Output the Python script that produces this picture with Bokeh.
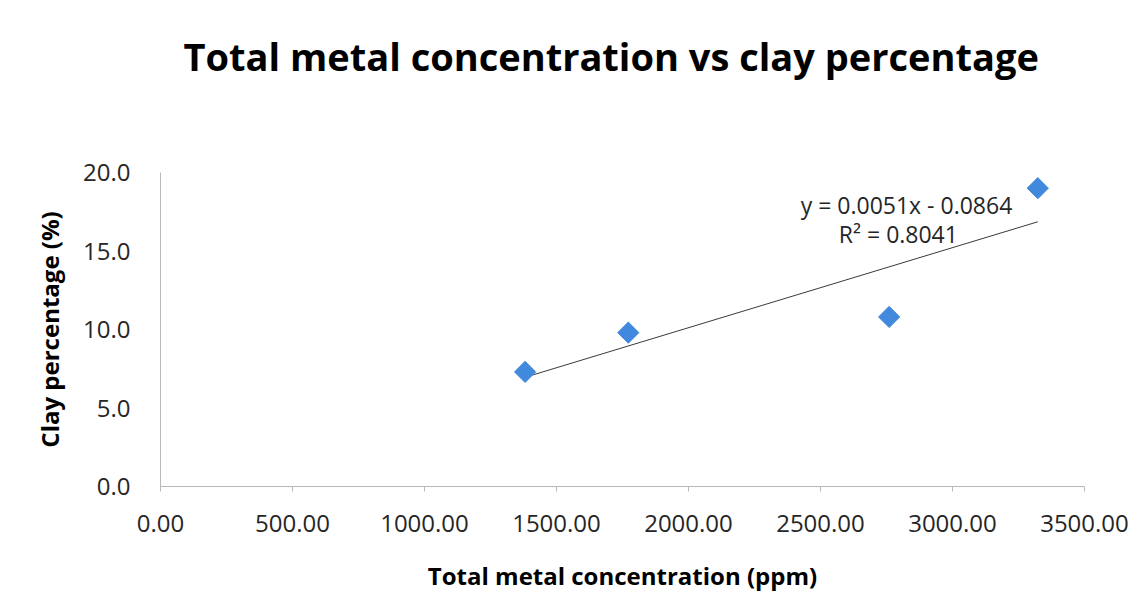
from bokeh.plotting import figure
from bokeh.models import ColumnDataSource, FixedTicker, NumeralTickFormatter, Label, Title
from bokeh.embed import file_html
from bokeh.resources import INLINE

# ---- data ----
metal_ppm = [1381, 1772, 2760, 3323]
clay_pct = [7.3, 9.8, 10.8, 19.0]
slope = 0.0051
intercept = -0.0864
eq_text = "y = 0.0051x  - 0.0864"
r2_text = "R² = 0.8041"
title_text = "Total metal concentration vs clay percentage"
x_ticks = [0, 500, 1000, 1500, 2000, 2500, 3000, 3500]
y_ticks = [0, 5, 10, 15, 20]

FONT = "Open Sans"

p = figure(width=1143, height=609, output_backend="svg", toolbar_location=None,
           x_range=(0, 3500), y_range=(0, 20),
           frame_width=924, frame_height=314,
           min_border_left=160, min_border_right=59, min_border_top=172, min_border_bottom=123,
           title=None)
p.background_fill_color = "white"
p.border_fill_color = "white"
p.outline_line_color = None
p.grid.visible = False

# spacer between frame and title, then the title itself
p.add_layout(Title(text=" ", text_font_size="1px", standoff=83), "above")
p.add_layout(Title(text=title_text, align="left", offset=23,
                   text_font=FONT, text_font_size="38px", text_font_style="bold",
                   text_color="black", standoff=10), "above")

# axes
p.xaxis.ticker = FixedTicker(ticks=x_ticks)
p.yaxis.ticker = FixedTicker(ticks=y_ticks)
p.xaxis.formatter = NumeralTickFormatter(format="0.00")
p.yaxis.formatter = NumeralTickFormatter(format="0.0")
for ax in (p.xaxis[0], p.yaxis[0]):
    ax.axis_line_color = "#b8b8b8"
    ax.axis_line_width = 1
    ax.minor_tick_line_color = None
    ax.major_label_text_font = FONT
    ax.major_label_text_font_size = "24px"
    ax.major_label_text_color = "#262626"
    ax.axis_label_text_font = FONT
    ax.axis_label_text_font_size = "24px"
    ax.axis_label_text_font_style = "bold"
    ax.axis_label_text_color = "black"
p.xaxis.major_tick_line_color = "#b8b8b8"
p.xaxis.major_tick_in = 0
p.xaxis.major_tick_out = 5
p.xaxis.major_label_standoff = 23
p.xaxis.axis_label = "Total metal concentration (ppm)"
p.xaxis.axis_label_standoff = 24
p.yaxis.major_tick_line_color = None
p.yaxis.major_tick_in = 0
p.yaxis.major_tick_out = 0
p.yaxis.major_label_standoff = 30
p.yaxis.axis_label = "Clay percentage (%)"
p.yaxis.axis_label_standoff = 14

# trendline
x0, x1 = min(metal_ppm), max(metal_ppm)
trend = ColumnDataSource(dict(x=[x0, x1], y=[slope * x0 + intercept, slope * x1 + intercept]))
p.line("x", "y", source=trend, line_color="#3a3a3a", line_width=1)

# points
src = ColumnDataSource(dict(x=metal_ppm, y=clay_pct))
p.scatter("x", "y", source=src, marker="square", angle=0.785398, size=15,
          fill_color="#4189DD", line_color="#4189DD")

# equation labels
p.add_layout(Label(x=2837, y=17.96, text=eq_text, text_align="center", text_baseline="middle",
                   text_font=FONT, text_font_size="23px", text_color="#262626"))
p.add_layout(Label(x=2795, y=16.1, text=r2_text, text_align="center", text_baseline="middle",
                   text_font=FONT, text_font_size="23px", text_color="#262626"))

open("out.html", "w").write(file_html(p, INLINE))
